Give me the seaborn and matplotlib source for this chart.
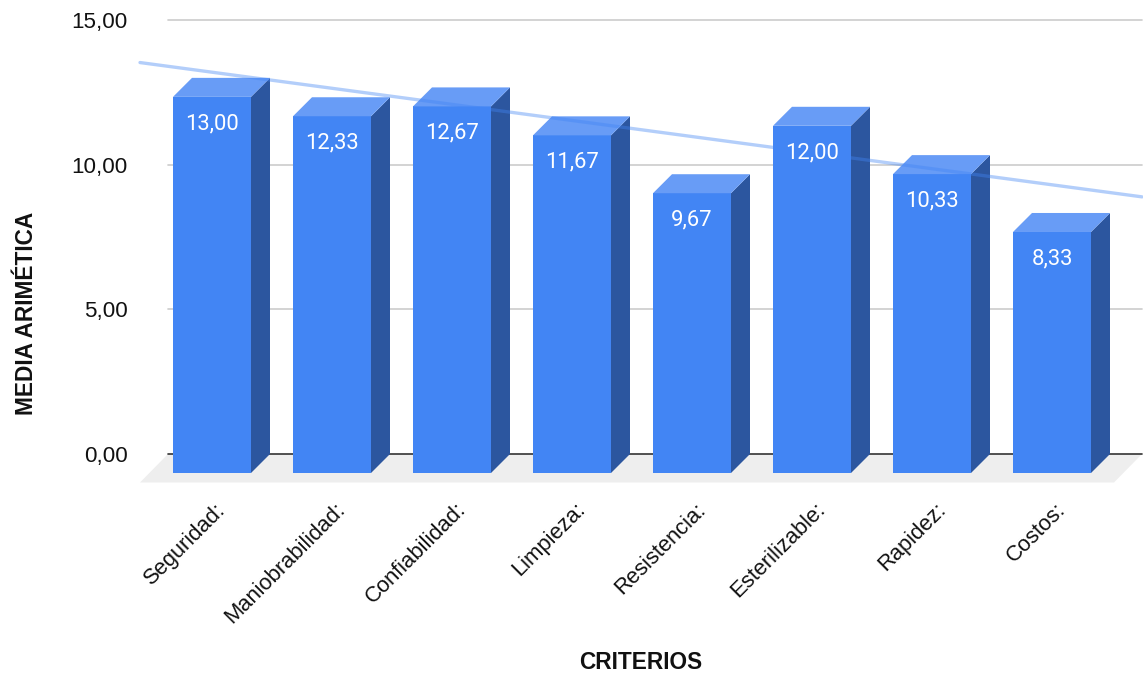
import numpy as np
import pandas as pd
import matplotlib
matplotlib.use("Agg")
import matplotlib.pyplot as plt
from matplotlib.patches import Polygon
from matplotlib.transforms import ScaledTranslation
import seaborn as sns

criterios = ["Seguridad:", "Maniobrabilidad:", "Confiabilidad:", "Limpieza:",
             "Resistencia:", "Esterilizable:", "Rapidez:", "Costos:"]
medias = [13.00, 12.33, 12.67, 11.67, 9.67, 12.00, 10.33, 8.33]
yticks = [0, 5, 10, 15]

BLUE = "#4285f4"
TOP = "#689cf6"
SIDE = "#2c569f"

sns.set_theme(style="white")
plt.rcParams["font.family"] = ["Liberation Sans", "DejaVu Sans"]

W, H = 1143, 674
fig = plt.figure(figsize=(W / 100, H / 100), dpi=100)
ax = fig.add_axes([168 / W, 1 - 454 / H, (1142 - 168) / W, (454 - 20) / H])

# fake 3d depth, in data units
dx = 19 / 120
dy = 19 / (434 / 15)
bar_w = 78 / 120

df = pd.DataFrame({"criterio": criterios, "media": medias})
sns.barplot(data=df, x="criterio", y="media", color=BLUE, saturation=1,
            width=bar_w, bottom=-dy, ax=ax, zorder=3, clip_on=False,
            linewidth=0, edgecolor="none")

ax.set_xlim(-44 / 120, 930 / 120)
ax.set_ylim(0, 15)

# sides and tops of the bars, floor under them
for b in list(ax.patches):
    x0, x1 = b.get_x(), b.get_x() + b.get_width()
    y0, y1 = b.get_y(), b.get_y() + b.get_height()
    ax.add_patch(Polygon([(x1, y0), (x1 + dx, y0 + dy), (x1 + dx, y1 + dy), (x1, y1)],
                         fc=SIDE, ec="none", zorder=3, clip_on=False))
    ax.add_patch(Polygon([(x0, y1), (x0 + dx, y1 + dy), (x1 + dx, y1 + dy), (x1, y1)],
                         fc=TOP, ec="none", zorder=3, clip_on=False))
    ax.text((x0 + x1) / 2, y1 - 27 / (434 / 15), f"{y1 + dy:.2f}".replace(".", ","),
            color="white", ha="center", va="center", fontsize=15.8,
            family="Roboto", zorder=6)

xl, xr = ax.get_xlim()
floor_y = -28.5 / (434 / 15)
ax.add_patch(Polygon([(xl, 0), (xr, 0), (xr - 28 / 120, floor_y), (xl - 28 / 120, floor_y)],
                     fc="#eeeeee", ec="none", zorder=1, clip_on=False))

# trend line
xs = np.arange(len(medias))
m, c = np.polyfit(xs, medias, 1)
tx = np.array([-72 / 120, xr])
sns.lineplot(x=tx, y=m * tx + c, color=BLUE, alpha=0.4, linewidth=2.4, ax=ax,
             zorder=5, clip_on=False)

# grid
for v in yticks[1:]:
    ax.axhline(v, color="#cccccc", linewidth=1.2, zorder=2, clip_on=False)
ax.axhline(0, color="#333333", linewidth=1.2, zorder=2, clip_on=False)

for s in ax.spines.values():
    s.set_visible(False)

ax.set_yticks(yticks)
ax.set_yticklabels([f"{v:.2f}".replace(".", ",") for v in yticks], fontsize=16.1, color="#111111")
ax.tick_params(axis="y", length=0, pad=29)
ax.set_xticks(xs)
ax.set_xticklabels(criterios, rotation=45, ha="right", rotation_mode="anchor",
                   fontsize=15.8, color="#111111")
ax.tick_params(axis="x", length=0, pad=0)
shift = ScaledTranslation(3 / 100, -45 / 100, fig.dpi_scale_trans)
for t in ax.get_xticklabels():
    t.set_transform(t.get_transform() + shift)

ax.set_xlabel("")
ax.set_ylabel("")
fig.text(640.5 / W, 1 - 669 / H, "CRITERIOS", fontsize=16.3, fontweight="bold",
         ha="center", va="baseline", color="#111111")
fig.text(27 / W, 1 - 313 / H, "MEDIA ARIMÉTICA", fontsize=16.3, fontweight="bold",
         rotation=90, ha="center", va="center", color="#111111")

fig.savefig("out.png", dpi=100, facecolor="white")
